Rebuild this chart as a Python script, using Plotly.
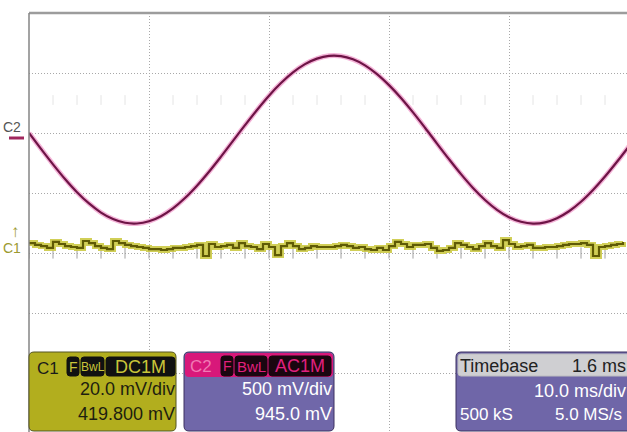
import plotly.graph_objects as go

# ---------------- data ----------------
# C2 (AC1M, 500 mV/div, offset 945.0 mV): sampled every 1 ms, volts
c2_t_ms = [-50, -49, -48, -47, -46, -45, -44, -43, -42, -41, -40, -39, -38, -37, -36, -35,
           -34, -33, -32, -31, -30, -29, -28, -27, -26, -25, -24, -23, -22, -21, -20, -19,
           -18, -17, -16, -15, -14, -13, -12, -11, -10, -9, -8, -7, -6, -5, -4, -3, -2, -1, 0]
c2_volts = [0.055, -0.077, -0.206, -0.328, -0.438, -0.532, -0.608, -0.662, -0.693, -0.699,
            -0.681, -0.638, -0.573, -0.487, -0.384, -0.268, -0.142, -0.011, 0.120, 0.247,
            0.366, 0.471, 0.560, 0.629, 0.675, 0.698, 0.696, 0.669, 0.619, 0.546,
            0.454, 0.347, 0.227, 0.099, -0.033, -0.163, -0.288, -0.403, -0.503, -0.585,
            -0.647, -0.685, -0.700, -0.690, -0.655, -0.597, -0.518, -0.420, -0.308, -0.185, -0.055]

# C1 (DC1M, 20.0 mV/div, offset 419.800 mV): sampled every 0.5 ms from -50 ms, millivolts
c1_start_ms = -50.0
c1_step_ms = 0.5
c1_mv = [-416.5, -417.1, -417.5, -418.1, -416.1, -416.8, -417.5, -417.8, -418.1, -415.8,
         -416.5, -417.5, -418.1, -418.5, -415.8, -416.5, -417.1, -417.5, -417.8, -418.1,
         -418.5, -418.5, -418.8, -418.5, -418.1, -418.1, -417.8, -417.5, -417.1, -420.8,
         -416.8, -417.8, -417.5, -417.1, -418.1, -416.5, -417.5, -417.8, -418.5, -416.8,
         -417.8, -420.5, -417.5, -416.5, -417.5, -418.5, -418.1, -417.5, -417.8, -417.8,
         -417.8, -417.5, -417.1, -417.5, -418.1, -417.8, -418.5, -418.8, -418.1, -418.8,
         -417.5, -416.1, -416.8, -417.8, -417.1, -417.1, -416.8, -418.1, -419.1, -418.8,
         -418.1, -416.5, -417.1, -417.8, -418.5, -417.5, -416.5, -417.5, -418.1, -415.5,
         -416.8, -417.8, -417.5, -417.1, -418.1, -418.1, -417.8, -417.8, -417.5, -417.1,
         -416.8, -416.8, -416.5, -417.1, -420.8, -417.8, -417.5, -417.1, -416.8, -416.1]

c1_scale_mv, c1_offset_mv = 20.0, 419.8
c2_scale_v, c2_offset_v = 0.5, 0.945
timebase_ms = 10.0

# ---------------- geometry helpers ----------------
W, H = 627, 432
def X(p): return p / W
def Y(p): return 1 - p / H

c1_t = [c1_start_ms + c1_step_ms * i for i in range(len(c1_mv))]
c1_div = [(v + c1_offset_mv) / c1_scale_mv for v in c1_mv]
c2_div = [v / c2_scale_v + c2_offset_v / c2_scale_v for v in c2_volts]

fig = go.Figure()

# faint ghost ticks row and centre-axis minor ticks
minor_t = [-50 + 2 * k for k in range(25) if k % 5 != 0]
fig.add_trace(go.Scatter(x=minor_t, y=[2.55] * len(minor_t), mode="markers",
                         marker=dict(symbol="line-ns", size=7, line=dict(color="#e4e4e4", width=1)),
                         hoverinfo="skip", showlegend=False))
all_t = [-50 + 2 * k for k in range(26)]
fig.add_trace(go.Scatter(x=all_t, y=[0] * len(all_t), mode="markers",
                         marker=dict(symbol="line-ns", size=8, line=dict(color="#a0a0a0", width=1)),
                         hoverinfo="skip", showlegend=False))
vt = [-3 + 0.2 * k for k in range(36)]
fig.add_trace(go.Scatter(x=[0] * len(vt), y=vt, mode="markers", cliponaxis=False,
                         marker=dict(symbol="line-ew", size=10, line=dict(color="#a0a0a0", width=1)),
                         hoverinfo="skip", showlegend=False))

# C1 trace (glow + core)
fig.add_trace(go.Scatter(x=c1_t, y=c1_div, mode="lines", line=dict(color="#cdca45", width=6, shape="hv"),
                         opacity=0.9, hoverinfo="skip", showlegend=False))
fig.add_trace(go.Scatter(x=c1_t, y=c1_div, mode="lines", line=dict(color="#5f5a05", width=2.2, shape="hv"),
                         name="C1", showlegend=False))
# C2 trace (glow + core)
fig.add_trace(go.Scatter(x=c2_t_ms, y=c2_div, mode="lines", line=dict(color="#f4b4d8", width=5, shape="spline"),
                         hoverinfo="skip", showlegend=False))
fig.add_trace(go.Scatter(x=c2_t_ms, y=c2_div, mode="lines", line=dict(color="#6e1446", width=2.2, shape="spline"),
                         name="C2", showlegend=False))

x0_ms = -5 * timebase_ms
fig.update_xaxes(domain=[X(29), 1], range=[x0_ms, x0_ms + 598 / 12.0], tick0=x0_ms, dtick=timebase_ms,
                 showgrid=True, gridcolor="#a8a8a8", griddash="1px,2px", gridwidth=1,
                 showticklabels=False, zeroline=False, showline=False, ticks="")
fig.update_yaxes(domain=[0, Y(13)], range=[4 - 419 / 60.0, 4], tick0=0, dtick=1,
                 showgrid=True, gridcolor="#a8a8a8", griddash="1px,2px", gridwidth=1,
                 showticklabels=False, zeroline=False, showline=False, ticks="")

shapes = []
# borders
shapes.append(dict(type="line", xref="paper", yref="paper", x0=X(29), x1=1, y0=Y(13), y1=Y(13),
                   line=dict(color="#9c9c9c", width=2.5)))
shapes.append(dict(type="line", xref="paper", yref="paper", x0=X(29), x1=X(29), y0=Y(13), y1=0,
                   line=dict(color="#858585", width=1.5)))

def rrect(x0, y0, x1, y1, r, fill, line="#3a3a3a", lw=1):
    p = (f"M {X(x0+r)},{Y(y0)} L {X(x1-r)},{Y(y0)} Q {X(x1)},{Y(y0)} {X(x1)},{Y(y0+r)} "
         f"L {X(x1)},{Y(y1-r)} Q {X(x1)},{Y(y1)} {X(x1-r)},{Y(y1)} L {X(x0+r)},{Y(y1)} "
         f"Q {X(x0)},{Y(y1)} {X(x0)},{Y(y1-r)} L {X(x0)},{Y(y0+r)} Q {X(x0)},{Y(y0)} {X(x0+r)},{Y(y0)} Z")
    return dict(type="path", xref="paper", yref="paper", path=p, fillcolor=fill,
                line=dict(color=line, width=lw), layer="above")

# C2 ground marker
shapes.append(dict(type="line", xref="paper", yref="paper", x0=X(9), x1=X(24), y0=Y(138), y1=Y(138),
                   line=dict(color="#a0285e", width=3)))

# C1 panel
shapes.append(rrect(29, 352, 176, 431, 5, "#b2ae1e", "#555522"))
for a, b in [(67, 79), (81, 104), (106, 175)]:
    shapes.append(rrect(a, 357, b, 376, 3, "#111111", "#111111"))
# C2 panel
shapes.append(rrect(184, 352, 334, 431, 5, "#7067a9", "#3c3060"))
shapes.append(rrect(185, 353, 333, 377, 4, "#d8187a", "#d8187a", 0))
for a, b in [(221, 233), (235, 267), (269, 331)]:
    shapes.append(rrect(a, 356, b, 376, 3, "#1a0610", "#1a0610"))
# Timebase panel
shapes.append(rrect(456, 352, 650, 431, 5, "#6f66a8", "#3c3060"))
shapes.append(rrect(458, 354, 640, 376, 3, "#cfcfd2", "#bdbdc0"))

FONT = "Liberation Sans"
ann = []
def txt(s, x, y, color, size=18, anchor="left"):
    ann.append(dict(text=s, x=X(x), y=Y(y), xref="paper", yref="paper", xanchor=anchor,
                    yanchor="middle", showarrow=False, font=dict(family=FONT, size=size, color=color)))

# channel markers on the left
txt("C2", 1, 127, "#555555", 14)
txt("↑", 9, 231, "#9c9a30", 17)
txt("C1", 1, 248, "#9c9a30", 14)

# C1 panel text
txt("C1", 35, 368, "#1a1a1a", 17)
txt("F", 73, 367, "#c9c53a", 14, "center")
txt("BwL", 92.5, 367, "#c9c53a", 12, "center")
txt("DC1M", 140.5, 367, "#c9c53a", 18, "center")
txt(f"{c1_scale_mv:.1f} mV/div", 177, 389, "#1e1e10", 18, "right")
txt(f"{c1_offset_mv:.3f} mV", 177, 414, "#1e1e10", 18, "right")

# C2 panel text
txt("C2", 188, 366, "#f07ab4", 17)
txt("F", 227, 366, "#e0207e", 14, "center")
txt("BwL", 251, 366, "#e0207e", 15, "center")
txt("AC1M", 300, 366, "#e0207e", 18, "center")
txt(f"{c2_scale_v*1000:.0f} mV/div", 334, 389, "#ffffff", 18, "right")
txt(f"{c2_offset_v*1000:.1f} mV", 334, 414, "#ffffff", 18, "right")

# Timebase panel text
txt("Timebase", 458, 366, "#222222", 18)
txt("1.6 ms", 628, 366, "#222222", 18, "right")
txt(f"{timebase_ms:.1f} ms/div", 628, 391, "#ffffff", 18, "right")
txt("500 kS", 458, 414, "#ffffff", 17)
txt("5.0 MS/s", 624, 414, "#ffffff", 17, "right")

fig.update_layout(width=W, height=H, margin=dict(l=0, r=0, t=0, b=0),
                  paper_bgcolor="white", plot_bgcolor="white",
                  shapes=shapes, annotations=ann, showlegend=False)

fig.write_html("out.html")
